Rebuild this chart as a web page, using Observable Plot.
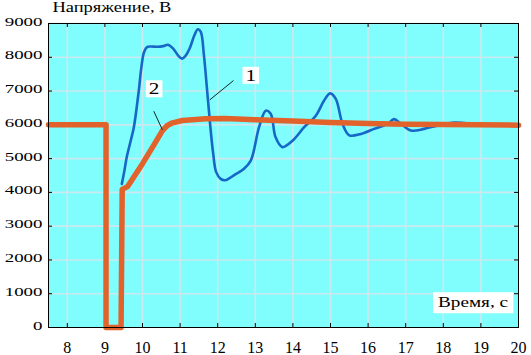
<!DOCTYPE html>
<html><head><meta charset="utf-8">
<script src="https://cdn.jsdelivr.net/npm/d3@7"></script>
<script src="https://cdn.jsdelivr.net/npm/@observablehq/plot@0.6"></script>
<style>body{margin:0;background:#fff;}</style>
</head><body><div id="chart"></div>
<script>
// Curve 1 (blue): time (s), voltage (V)
const blueT = [9.45, 9.52, 9.58, 9.68, 9.77, 9.90, 9.97, 10.04, 10.12, 10.22, 10.40, 10.55, 10.68, 10.82, 10.95, 11.05, 11.15, 11.25, 11.38, 11.47, 11.55, 11.63, 11.72, 11.80, 11.88, 11.96, 12.08, 12.20, 12.45, 12.70, 12.88, 13.10, 13.28, 13.41, 13.54, 13.72, 13.99, 14.30, 14.61, 14.83, 14.99, 15.14, 15.32, 15.50, 15.81, 16.16, 16.52, 16.69, 16.87, 17.14, 17.49, 17.85, 18.29, 18.56, 18.90, 19.50, 20.00];
const blueV = [4250, 4650, 5040, 5500, 5930, 7000, 7700, 8150, 8300, 8320, 8310, 8330, 8370, 8250, 8050, 7960, 8050, 8250, 8650, 8830, 8750, 8100, 7000, 6000, 5150, 4600, 4400, 4360, 4520, 4700, 4940, 5930, 6420, 6330, 5630, 5340, 5530, 5930, 6270, 6720, 6930, 6770, 6030, 5690, 5730, 5880, 6030, 6170, 6030, 5830, 5880, 5980, 6070, 6050, 6000, 6000, 6000];
// Curve 2 (orange)
const orangeT = [7.5, 9.03, 9.03, 9.43, 9.46, 9.60, 10.00, 10.30, 10.53, 10.66, 10.80, 11.06, 11.68, 12.20, 13.00, 14.00, 15.00, 16.00, 17.00, 18.00, 20.00];
const orangeV = [6000, 6000, 0, 0, 4090, 4170, 4850, 5400, 5830, 5980, 6060, 6127, 6177, 6190, 6150, 6110, 6070, 6040, 6020, 6010, 5990];
// Ticks
const xTicks = [8, 9, 10, 11, 12, 13, 14, 15, 16, 17, 18, 19, 20];
const yTicks = [0, 1000, 2000, 3000, 4000, 5000, 6000, 7000, 8000, 9000];
// Curve labels and leader lines
const labelText = ["1", "2"];
const labelX = [12.88, 10.31];
const labelY = [7311, 6912];
const leadX1 = [12.42, 10.30];
const leadY1 = [7311, 6403];
const leadX2 = [11.79, 10.53];
const leadY2 = [6740, 5852];
const titleText = "Напряжение, В";
const xTitle = "Время, с";

const blue = blueT.map((t, i) => ({t, v: blueV[i]}));
const orange = orangeT.map((t, i) => ({t, v: orangeV[i]}));
const labels = labelText.map((s, i) => ({s, x: labelX[i], y: labelY[i]}));
const leads = leadX1.map((x1, i) => ({x1, y1: leadY1[i], x2: leadX2[i], y2: leadY2[i]}));

const W = 531, H = 355, ML = 48, MR = 13, MT = 23, MB = 28;
const gridColor = "#cbe9ee";

// pick an installed serif font
function pickFont() {
  const ctx = document.createElement("canvas").getContext("2d");
  const sample = "Напряжение 9000 Время";
  const widthOf = f => { ctx.font = `20px ${f}`; return ctx.measureText(sample).width; };
  const cands = ["Liberation Serif", "DejaVu Serif", "Noto Serif", "Tinos", "Times New Roman", "Times", "FreeSerif", "Nimbus Roman", "Nimbus Roman No9 L"];
  const bases = ["monospace", "sans-serif"];
  for (const c of cands) {
    const ok = bases.every(b => Math.abs(widthOf(`"${c}", ${b}`) - widthOf(b)) > 0.5);
    if (ok) return `"${c}"`;
  }
  return "serif";
}
const FF = pickFont() + ", serif";

const svg = Plot.plot({
  width: W, height: H,
  marginLeft: ML, marginRight: MR, marginTop: MT, marginBottom: MB,
  style: {background: "white", fontSize: "14px", color: "black"},
  x: {domain: [7.5, 20]},
  y: {domain: [0, 9000]},
  marks: [
    Plot.frame({fill: "#80fdfd", stroke: null}),
    Plot.gridX(xTicks.slice(0, -1), {stroke: gridColor, strokeOpacity: 1, strokeWidth: 1.6}),
    Plot.gridY(yTicks.slice(1), {stroke: gridColor, strokeOpacity: 1, strokeWidth: 1.6}),
    Plot.tickX(xTicks, {x: d => d, insetTop: H - MT - MB - 4, stroke: "black"}),
    Plot.tickX(xTicks, {x: d => d, insetBottom: H - MT - MB - 4, stroke: "black"}),
    Plot.tickY(yTicks, {y: d => d, insetLeft: W - ML - MR - 4, stroke: "black"}),
    Plot.tickY(yTicks, {y: d => d, insetRight: W - ML - MR - 4, stroke: "black"}),
    Plot.axisX(xTicks, {anchor: "bottom", tickSize: 0, tickPadding: 14, fontSize: 16, tickFormat: d => String(d), label: null}),
    Plot.axisY(yTicks, {anchor: "left", tickSize: 0, tickPadding: 6, fontSize: 13.5, dy: 2, tickFormat: d => String(d), label: null}),
    Plot.line(blue, {x: "t", y: "v", stroke: "#1767c6", strokeWidth: 2.6, curve: "catmull-rom"}),
    Plot.line(orange, {x: "t", y: "v", stroke: "#e2622b", strokeWidth: 5.5, strokeLinejoin: "round"}),
    Plot.link(leads, {x1: "x1", y1: "y1", x2: "x2", y2: "y2", stroke: "#0b2a1e", strokeWidth: 1}),
    Plot.frame({stroke: "black", strokeWidth: 1}),
    Plot.text([titleText], {frameAnchor: "top-left", text: d => d, textAnchor: "start", dx: 4, dy: -11.5, fontSize: 15}),
    Plot.text([xTitle], {frameAnchor: "bottom-right", text: d => d, textAnchor: "middle", dx: -45.5, dy: -21, fontSize: 15}),
    Plot.text(labels, {x: "x", y: "y", text: "s", fontSize: 17})
  ]
});
document.getElementById("chart").append(svg);
svg.querySelectorAll("g").forEach(g => g.removeAttribute("font-family"));
svg.querySelectorAll("text").forEach(t => { t.removeAttribute("font-family"); t.style.fontFamily = FF; });

function stretch(texts, s) {
  texts.forEach(t => {
    const x = +t.getAttribute("x") || 0, y = +t.getAttribute("y") || 0;
    t.removeAttribute("x"); t.removeAttribute("y");
    const tr = t.getAttribute("transform") || "";
    t.setAttribute("transform", `${tr} translate(${x},${y}) scale(${s},1)`);
  });
}
stretch(svg.querySelectorAll('g[aria-label="y-axis tick label"] text'), 1.4);
const textGroups = svg.querySelectorAll('g[aria-label="text"]');
stretch(textGroups[0].querySelectorAll("text"), 1.23);
stretch(textGroups[1].querySelectorAll("text"), 1.28);
stretch(textGroups[2].querySelectorAll("text"), 1.25);

function addBoxes(group, padX, h, offY) {
  const s = svg.getBoundingClientRect();
  group.querySelectorAll("text").forEach(t => {
    const r = t.getBoundingClientRect();
    const cx = r.x - s.x + r.width / 2, cy = r.y - s.y + r.height / 2 + offY;
    const w = r.width + 2 * padX;
    const rect = document.createElementNS("http://www.w3.org/2000/svg", "rect");
    rect.setAttribute("x", cx - w / 2);
    rect.setAttribute("y", cy - h / 2);
    rect.setAttribute("width", w);
    rect.setAttribute("height", h);
    rect.setAttribute("fill", "white");
    svg.insertBefore(rect, group);
  });
}
addBoxes(textGroups[1], 5, 21, 1);
addBoxes(textGroups[2], 3, 17, 0.5);
</script>
</body></html>
